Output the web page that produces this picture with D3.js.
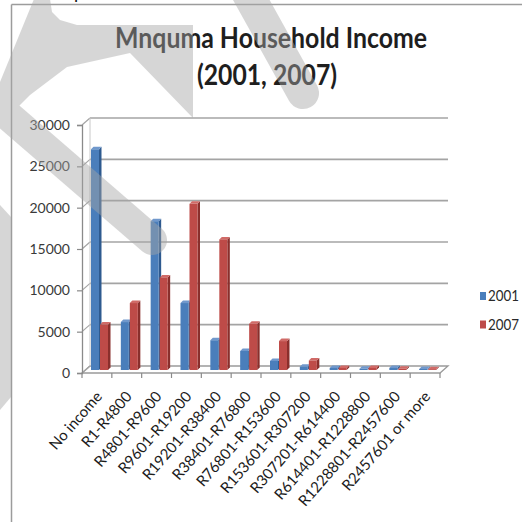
<!DOCTYPE html>
<html>
<head>
<meta charset="utf-8">
<script src="https://cdn.jsdelivr.net/npm/d3@7"></script>
<style>
  html, body { margin: 0; padding: 0; background: #fff; }
  svg { display: block; }
</style>
</head>
<body>
<svg id="chart" width="522" height="522"></svg>
<script>
// Household income bands (annual, Rand) and household counts per census year
const categories = [
  "No income", "R1-R4800", "R4801-R9600", "R9601-R19200", "R19201-R38400",
  "R38401-R76800", "R76801-R153600", "R153601-R307200", "R307201-R614400",
  "R614401-R1228800", "R1228801-R2457600", "R2457601 or more"
];
const households2001 = [26700, 5800, 18000, 8100, 3600, 2300, 1100, 400, 250, 150, 250, 120];
const households2007 = [5500, 8100, 11200, 20100, 15800, 5600, 3500, 1150, 250, 250, 150, 100];
const seriesNames = ["2001", "2007"];
const yTicks = [0, 5000, 10000, 15000, 20000, 25000, 30000];
const titleLines = ["Mnquma Household Income", "(2001, 2007)"];

const svg = d3.select("#chart");
const FONT = "Lato, 'Open Sans', sans-serif";

// colours: front face, side face, top face
const palette = [
  { front: "#4A7EBB", side: "#2E5A8F", top: "#7098CC" },
  { front: "#BE4B48", side: "#8A2F2C", top: "#D06A67" }
];

// outer frame
const frame = svg.append("g").attr("stroke", "#9c9c9c").attr("stroke-width", 1.5);
frame.append("line").attr("x1", 11.5).attr("y1", 4.5).attr("x2", 522).attr("y2", 4.5);
frame.append("line").attr("x1", 11.5).attr("y1", 4.5).attr("x2", 11.5).attr("y2", 522);

// text cut by the top edge
svg.append("text").attr("x", 74).attr("y", -1.5).attr("font-family", FONT)
  .attr("font-size", 18).attr("fill", "#111").text("p");

// title
svg.append("text").attr("x", 271).attr("y", 48).attr("text-anchor", "middle")
  .attr("font-family", FONT).attr("font-size", 28).attr("font-weight", 700)
  .attr("fill", "#1e1e1e").attr("textLength", 312).attr("lengthAdjust", "spacingAndGlyphs")
  .text(titleLines[0]);
svg.append("text").attr("x", 267).attr("y", 85).attr("text-anchor", "middle")
  .attr("font-family", FONT).attr("font-size", 28).attr("font-weight", 700)
  .attr("fill", "#1e1e1e").attr("textLength", 140).attr("lengthAdjust", "spacingAndGlyphs")
  .text(titleLines[1]);

// 3-D plot geometry
const DX = 8, DY = -7;            // wall depth
const BDX = 2.5, BDY = -2.5;      // bar depth
const x = d3.scaleBand().domain(categories).range([82, 440]);
const yFront = d3.scaleLinear().domain([0, 30000]).range([373, 125]);
const yBar = d3.scaleLinear().domain([0, 30000]).range([370, 122]);

const plot = svg.append("g");

// floor
const x0 = x.range()[0], x1 = x.range()[1];
plot.append("path")
  .attr("d", `M${x0},${yFront(0)}L${x1},${yFront(0)}L${x1 + DX},${yFront(0) + DY}L${x0 + DX},${yFront(0) + DY}Z`)
  .attr("fill", "#fff").attr("stroke", "#9a9a9a").attr("stroke-width", 1.3);

// back wall gridlines and side-wall connectors
yTicks.filter(t => t > 0).forEach(t => {
  const yb = yFront(t) + DY;
  plot.append("line").attr("x1", x0 + DX).attr("x2", x1 + DX).attr("y1", yb).attr("y2", yb)
    .attr("stroke", "#a4a4a4").attr("stroke-width", 1.6);
});
yTicks.forEach(t => {
  plot.append("line").attr("x1", x0).attr("y1", yFront(t)).attr("x2", x0 + DX).attr("y2", yFront(t) + DY)
    .attr("stroke", "#a4a4a4").attr("stroke-width", 1.2);
});
plot.append("line").attr("x1", x0 + DX).attr("x2", x0 + DX)
  .attr("y1", yFront(0) + DY).attr("y2", yFront(30000) + DY)
  .attr("stroke", "#c8c8c8").attr("stroke-width", 1);

// value axis
const yAxis = plot.append("g").attr("transform", `translate(${x0},0)`)
  .call(d3.axisLeft(yFront).tickValues(yTicks).tickSize(5).tickPadding(7).tickFormat(d3.format("d")));
yAxis.select(".domain").attr("stroke", "#8a8a8a").attr("stroke-width", 1.3);
yAxis.selectAll(".tick line").attr("stroke", "#8a8a8a").attr("stroke-width", 1.2);
yAxis.selectAll(".tick text").attr("font-family", FONT).attr("font-size", 14).attr("fill", "#3a3a3a");

// category axis ticks
const bounds = categories.map(c => x(c)).concat([x1]);
plot.selectAll(".ctick").data(bounds).join("line")
  .attr("x1", d => d).attr("x2", d => d).attr("y1", yFront(0)).attr("y2", yFront(0) + 5)
  .attr("stroke", "#8a8a8a").attr("stroke-width", 1.2);

// bars
const series = [households2001, households2007];
const barW = 8, barOff = [9, 18];
function barShapes(g, bx, v, col) {
  const yt = yBar(v), yb = yBar(0);
  g.append("path")
    .attr("d", `M${bx + barW},${yt}L${bx + barW + BDX},${yt + BDY}L${bx + barW + BDX},${yb + BDY}L${bx + barW},${yb}Z`)
    .attr("fill", col.side);
  g.append("path")
    .attr("d", `M${bx},${yt}L${bx + BDX},${yt + BDY}L${bx + barW + BDX},${yt + BDY}L${bx + barW},${yt}Z`)
    .attr("fill", col.top);
  g.append("rect").attr("x", bx).attr("y", yt).attr("width", barW).attr("height", Math.max(0, yb - yt))
    .attr("fill", col.front);
}
const bars = plot.append("g");
categories.forEach((c, i) => {
  series.forEach((s, k) => {
    barShapes(bars, x(c) + barOff[k], s[i], palette[k]);
  });
});

// category labels
plot.selectAll(".clabel").data(categories).join("text")
  .attr("transform", d => `translate(${x(d) + x.bandwidth() / 2 + 6},${yFront(0) + 24}) rotate(-49)`)
  .attr("text-anchor", "end").attr("font-family", FONT).attr("font-size", 15)
  .attr("fill", "#1c1c1c").text(d => d);

// legend
const legend = svg.append("g");
seriesNames.forEach((n, k) => {
  const ly = 296 + k * 28.5;
  legend.append("rect").attr("x", 480).attr("y", ly - 4).attr("width", 6).attr("height", 8)
    .attr("fill", palette[k].front);
  legend.append("text").attr("x", 488).attr("y", ly).attr("dy", "0.36em")
    .attr("font-family", FONT).attr("font-size", 14.5).attr("fill", "#2a2a2a")
    .attr("textLength", 31).attr("lengthAdjust", "spacingAndGlyphs").text(n);
});

// translucent grey overlay strokes
const overlay = svg.append("g").attr("opacity", 0.45).attr("fill", "#a6a6a6").attr("stroke", "#a6a6a6");
overlay.append("path").attr("stroke", "none")
  .attr("d", "M0,82L34,-1L50,-1L52,12L60,20L77,25L193,25L193,118L130,53L67,67L30,95L0,125Z");
overlay.append("path").attr("stroke", "none").attr("d", "M0,205L11,217L11,397L0,410Z");
overlay.append("line").attr("x1", 243).attr("y1", -15).attr("x2", 303).attr("y2", 93)
  .attr("stroke-width", 32).attr("stroke-linecap", "round");
overlay.append("line").attr("x1", -10).attr("y1", 100).attr("x2", 152).attr("y2", 240)
  .attr("stroke-width", 30).attr("stroke-linecap", "round");
</script>
</body>
</html>
